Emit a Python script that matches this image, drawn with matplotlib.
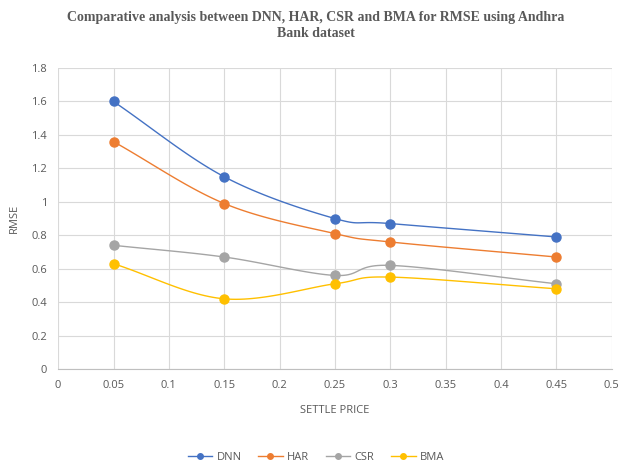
import numpy as np
import matplotlib
matplotlib.use("Agg")
from matplotlib import pyplot as plt

# Data
settle_price = [0.05, 0.15, 0.25, 0.3, 0.45]
dnn = [1.60, 1.15, 0.90, 0.87, 0.79]
har = [1.36, 0.99, 0.81, 0.76, 0.67]
csr = [0.74, 0.67, 0.56, 0.62, 0.51]
bma = [0.63, 0.42, 0.51, 0.55, 0.48]

series = [("DNN", dnn, "#4472C4"), ("HAR", har, "#ED7D31"),
          ("CSR", csr, "#A5A5A5"), ("BMA", bma, "#FFC000")]

x_ticks = [0, 0.05, 0.1, 0.15, 0.2, 0.25, 0.3, 0.35, 0.4, 0.45, 0.5]
x_labels = ["0", "0.05", "0.1", "0.15", "0.2", "0.25", "0.3", "0.35", "0.4", "0.45", "0.5"]
y_ticks = [0, 0.2, 0.4, 0.6, 0.8, 1, 1.2, 1.4, 1.6, 1.8]
y_labels = ["0", "0.2", "0.4", "0.6", "0.8", "1", "1.2", "1.4", "1.6", "1.8"]


def smooth(xs, ys, n=30):
    """Catmull-Rom curve through the points, like Excel's smoothed line."""
    xs = np.asarray(xs, float)
    ys = np.asarray(ys, float)
    px = np.concatenate([[2 * xs[0] - xs[1]], xs, [2 * xs[-1] - xs[-2]]])
    py = np.concatenate([[2 * ys[0] - ys[1]], ys, [2 * ys[-1] - ys[-2]]])
    out_x, out_y = [], []
    t = np.linspace(0, 1, n)
    for i in range(1, len(px) - 2):
        for p, out in ((px, out_x), (py, out_y)):
            p0, p1, p2, p3 = p[i - 1], p[i], p[i + 1], p[i + 2]
            out.extend(0.5 * ((2 * p1) + (-p0 + p2) * t
                              + (2 * p0 - 5 * p1 + 4 * p2 - p3) * t ** 2
                              + (-p0 + 3 * p1 - 3 * p2 + p3) * t ** 3))
    return out_x, out_y


plt.rcParams['font.family'] = ['Open Sans', 'DejaVu Sans']
fig = plt.figure(figsize=(6.32, 4.66), dpi=100)
ax = fig.add_axes([0.092, 0.208, 0.876, 0.646])

for name, vals, color in series:
    sx, sy = smooth(settle_price, vals)
    ax.plot(sx, sy, color=color, lw=1.0, zorder=3)
    ax.plot(settle_price, vals, "o", color=color, ms=6.5, zorder=4)
    ax.plot([], [], "-o", color=color, lw=1.0, ms=4, label=name)

ax.set_xlim(0, 0.5)
ax.set_ylim(0, 1.8)
ax.set_xticks(x_ticks, x_labels)
ax.set_yticks(y_ticks, y_labels)
ax.grid(True, color="#D9D9D9", lw=0.8)
ax.set_axisbelow(True)
for s in ["top", "right", "left"]:
    ax.spines[s].set_visible(False)
ax.spines["bottom"].set_color("#BFBFBF")
ax.tick_params(length=0, labelsize=8, colors="#595959", pad=8)

ax.set_xlabel("SETTLE PRICE", fontsize=8, color="#595959", labelpad=10)
ax.set_ylabel("RMSE", fontsize=8, color="#595959", labelpad=8)

fig.text(0.5, 0.945, "Comparative analysis between DNN, HAR, CSR and BMA for RMSE using Andhra\nBank dataset",
         ha="center", va="center", fontsize=10, fontweight="bold", color="#595959",
         family=["Liberation Serif", "DejaVu Serif"], linespacing=1.35)

fig.legend(loc="center", bbox_to_anchor=(0.5, 0.018), ncol=4, frameon=False,
           fontsize=8, labelcolor="#595959", handlelength=2.2, columnspacing=1.5,
           handletextpad=0.4)

fig.savefig("out.png", dpi=100)
